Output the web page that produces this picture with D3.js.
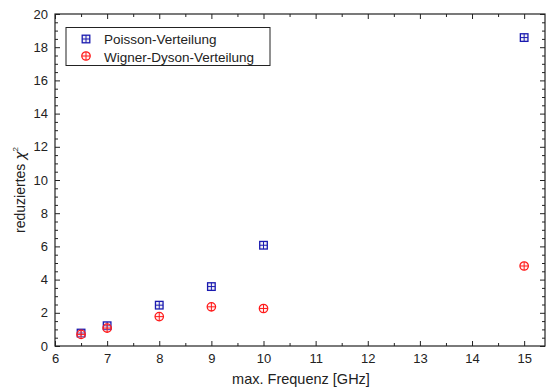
<!DOCTYPE html>
<html><head><meta charset="utf-8">
<script src="https://cdn.jsdelivr.net/npm/d3@7"></script>
<style>body{margin:0;background:#fff}svg{font-family:"Liberation Sans",Arial,sans-serif}</style>
</head><body><svg id="c" width="548" height="390"></svg>
<script>
const freq = [6.5, 7, 8, 9, 10, 15];
const poisson = [0.78, 1.22, 2.46, 3.58, 6.07, 18.58];
const wigner = [0.70, 1.08, 1.77, 2.36, 2.26, 4.82];
const xTicks = [6,7,8,9,10,11,12,13,14,15];
const yTicks = [0,2,4,6,8,10,12,14,16,18,20];
const seriesNames = ["Poisson-Verteilung", "Wigner-Dyson-Verteilung"];

const svg = d3.select("#c");
const L=55, R=545, T=14, B=346;
const x = d3.scaleLinear().domain([6,15.4]).range([L,R]);
const y = d3.scaleLinear().domain([0,20]).range([B,T]);
const ink="#222";
const g = svg.append("g");
g.append("rect").attr("x",L).attr("y",T).attr("width",R-L).attr("height",B-T)
 .attr("fill","none").attr("stroke",ink).attr("stroke-width",1.2);
const xMinor = d3.range(6.5,15.41,1);
const yMinor = d3.range(0.5,20,0.5).filter(v=>Math.abs(v-Math.round(v/2)*2)>1e-6);
const bx = g.append("g").attr("transform",`translate(0,${B})`)
 .call(d3.axisBottom(x).tickValues(xTicks).tickSizeInner(-5).tickSizeOuter(0).tickPadding(8));
bx.select(".domain").remove();
bx.selectAll("text").attr("font-size",13).attr("fill",ink).attr("font-family","Liberation Sans, Arial");
bx.selectAll("line").attr("stroke",ink);
g.append("g").attr("transform",`translate(0,${B})`)
 .call(d3.axisBottom(x).tickValues(xMinor).tickSize(-3).tickFormat("")).call(a=>a.select(".domain").remove()).selectAll("line").attr("stroke",ink);
g.append("g").attr("transform",`translate(0,${T})`)
 .call(d3.axisTop(x).tickValues(xTicks).tickSize(-5).tickFormat("")).call(a=>a.select(".domain").remove()).selectAll("line").attr("stroke",ink);
g.append("g").attr("transform",`translate(0,${T})`)
 .call(d3.axisTop(x).tickValues(xMinor).tickSize(-3).tickFormat("")).call(a=>a.select(".domain").remove()).selectAll("line").attr("stroke",ink);
const ly = g.append("g").attr("transform",`translate(${L},0)`)
 .call(d3.axisLeft(y).tickValues(yTicks).tickSizeInner(-5).tickSizeOuter(0).tickPadding(7));
ly.select(".domain").remove();
ly.selectAll("text").attr("font-size",13).attr("fill",ink).attr("font-family","Liberation Sans, Arial");
ly.selectAll("line").attr("stroke",ink);
g.append("g").attr("transform",`translate(${L},0)`)
 .call(d3.axisLeft(y).tickValues(yMinor).tickSize(-3).tickFormat("")).call(a=>a.select(".domain").remove()).selectAll("line").attr("stroke",ink);
g.append("g").attr("transform",`translate(${R},0)`)
 .call(d3.axisRight(y).tickValues(yTicks).tickSize(-5).tickFormat("")).call(a=>a.select(".domain").remove()).selectAll("line").attr("stroke",ink);
g.append("g").attr("transform",`translate(${R},0)`)
 .call(d3.axisRight(y).tickValues(yMinor).tickSize(-3).tickFormat("")).call(a=>a.select(".domain").remove()).selectAll("line").attr("stroke",ink);

svg.append("text").attr("x",301).attr("y",384).attr("text-anchor","middle")
 .attr("font-size",14.5).attr("fill",ink).text("max. Frequenz [GHz]");
const yl = svg.append("text").attr("transform",`translate(25,190) rotate(-90)`)
 .attr("text-anchor","middle").attr("font-size",14).attr("fill",ink);
yl.append("tspan").text("reduziertes ");
yl.append("tspan").attr("font-family","DejaVu Sans, serif").attr("font-style","italic").text("χ");
yl.append("tspan").attr("dy",-7).attr("font-size",8).text("2");

const blue="#1a1ab0", red="#ff1a1a";
function sq(sel,cx,cy){
  const s=3.8;
  const m=sel.append("g").attr("transform",`translate(${cx},${cy})`);
  m.append("rect").attr("x",-s).attr("y",-s).attr("width",2*s).attr("height",2*s).attr("fill","#ccd").attr("fill-opacity",0.3).attr("stroke",blue).attr("stroke-width",1.3);
  m.append("line").attr("x1",-s).attr("x2",s).attr("stroke",blue).attr("stroke-width",1);
  m.append("line").attr("y1",-s).attr("y2",s).attr("stroke",blue).attr("stroke-width",1);
}
function ci(sel,cx,cy){
  const r=4.2;
  const m=sel.append("g").attr("transform",`translate(${cx},${cy})`);
  m.append("circle").attr("r",r).attr("fill","#fcc").attr("fill-opacity",0.3).attr("stroke",red).attr("stroke-width",1.3);
  m.append("line").attr("x1",-r).attr("x2",r).attr("stroke",red).attr("stroke-width",1);
  m.append("line").attr("y1",-r).attr("y2",r).attr("stroke",red).attr("stroke-width",1);
}
const pts = svg.append("g");
freq.forEach((f,i)=>sq(pts,x(f),y(poisson[i])));
freq.forEach((f,i)=>ci(pts,x(f),y(wigner[i])));

const lg = svg.append("g");
lg.append("rect").attr("x",66).attr("y",27.5).attr("width",204).attr("height",38).attr("fill","#fff").attr("stroke",ink).attr("stroke-width",1);
sq(lg,86,39);
ci(lg,86,56);
lg.append("text").attr("x",104).attr("y",44).attr("font-size",13.5).attr("fill",ink).text(seriesNames[0]);
lg.append("text").attr("x",104).attr("y",61.5).attr("font-size",13.5).attr("fill",ink).text(seriesNames[1]);
</script></body></html>
